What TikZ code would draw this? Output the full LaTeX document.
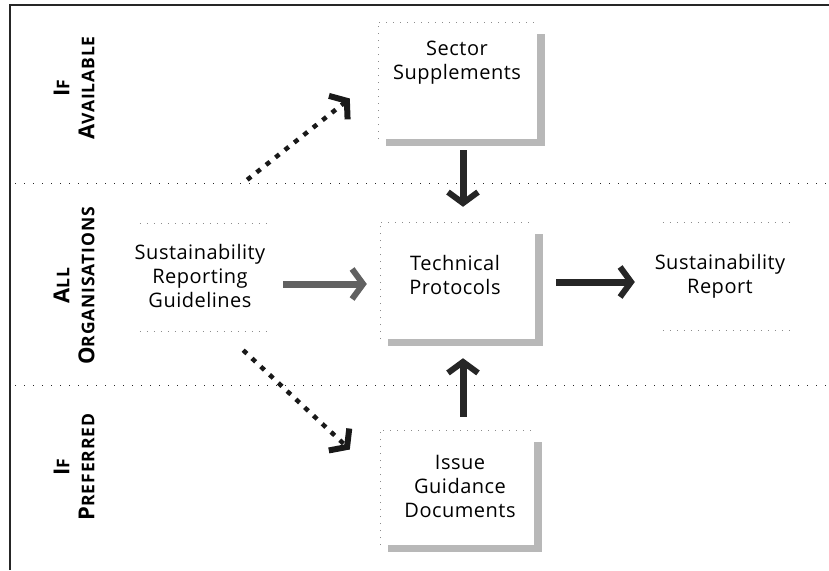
\documentclass[tikz,border=0pt]{standalone}
\usepackage{fontspec}
\setmainfont{Open Sans}[LetterSpace=2.5]
\newfontfamily\labfont[LetterSpace=5]{Open Sans}
\usetikzlibrary{arrows.meta}
\newcommand{\smc}[2]{{\fontsize{22}{25}\selectfont #1}{\fontsize{17.5}{25}\selectfont #2}}
\begin{document}
\begin{tikzpicture}[x=1pt,y=-1pt,
  boxframe/.style={draw=none,inner sep=0pt},
  boxtext/.style={align=center,inner sep=0pt,font=\fontsize{20}{24}\selectfont},
  faint/.style={draw=black!45,line width=0.6pt,dash pattern=on 1pt off 6pt},
  shade/.style={fill=black!28},
  rowlab/.style={rotate=90,align=center,inner sep=0pt,font=\labfont\bfseries\fontsize{22}{25}\selectfont},
  divider/.style={draw=black!85,line width=1pt,dash pattern=on 1.4pt off 7.6pt},
  tiphead/.style={-{Straight Barb[length=11pt,width=30pt,line width=6pt]}},
  bigarrow/.style={tiphead,line width=7pt},
  dasharrow/.style={tiphead,line width=4.5pt,dash pattern=on 5pt off 7pt,black!90}
]
\useasboundingbox (0,0) rectangle (829,570);

% frame
\draw[line width=1.3pt,black!85] (10,570) -- (10,5) -- (829,5);

% dividers
\draw[divider] (15,183) -- (829,183);
\draw[divider] (15,385) -- (829,385);

% row labels
\node[rowlab] (lavail) at (74,88) {\smc{I}{F}\\\smc{A}{VAILABLE}};
\node[rowlab] (lall) at (74,286) {\smc{A}{LL}\\\smc{O}{RGANISATIONS}};
\node[rowlab] (lpref) at (74,467) {\smc{I}{F}\\\smc{P}{REFERRED}};

% boxes with shadow
\node[boxframe,minimum width=159pt,minimum height=117pt] (sectorbox) at (457.5,80.5) {};
\node[boxframe,minimum width=155pt,minimum height=117pt] (techbox) at (457.5,280.5) {};
\node[boxframe,minimum width=154pt,minimum height=115pt] (issuebox) at (457,487.5) {};
\foreach \b in {sectorbox,techbox,issuebox}{
  \draw[faint] (\b.south west) -- (\b.north west) -- (\b.north east);
  \fill[shade] ([yshift=-12pt]\b.north east) rectangle ([xshift=8pt,yshift=-7pt]\b.south east);
  \fill[shade] ([xshift=8pt]\b.south west) rectangle ([xshift=8pt,yshift=-7pt]\b.south east);
}

% plain frames
\node[boxframe,minimum width=130pt,minimum height=108pt] (guideframe) at (205,277) {};
\node[boxframe,minimum width=130pt,minimum height=108pt] (reportframe) at (728,276) {};
\foreach \b in {guideframe,reportframe}{
  \draw[faint] (\b.north west) -- (\b.north east);
  \draw[faint] (\b.south west) -- (\b.south east);
}

% texts
\node[boxtext] (sector) at (457,63) {Sector\\Supplements};
\node[boxtext] (tech) at (455,275) {Technical\\Protocols};
\node[boxtext] (issue) at (460,486) {Issue\\Guidance\\Documents};
\node[boxtext] (guide) at (200,276) {Sustainability\\Reporting\\Guidelines};
\node[boxtext] (report) at (720,276) {Sustainability\\Report};

% arrows
\draw[bigarrow,black!62] ([xshift=13pt,yshift=-7pt]guideframe.east) -- ([xshift=-13pt,yshift=-3.5pt]techbox.west);
\draw[bigarrow,black!85] ([xshift=21pt,yshift=-1.5pt]techbox.east) -- ([xshift=-28pt,yshift=-6pt]reportframe.west);
\draw[bigarrow,black!85] ([xshift=5.5pt,yshift=-11pt]sectorbox.south) -- ([xshift=5.5pt,yshift=15pt]techbox.north);
\draw[bigarrow,black!85] ([xshift=6pt,yshift=13pt]issuebox.north) -- ([xshift=5.5pt,yshift=-19pt]techbox.south);
\draw[dasharrow] ([xshift=-23pt,yshift=43pt]guideframe.north east) -- ([xshift=-28pt,yshift=-18pt]sectorbox.west);
\draw[dasharrow] ([xshift=-27pt,yshift=-19pt]guideframe.south east) -- ([xshift=-30pt,yshift=38pt]issuebox.west);
\end{tikzpicture}
\end{document}
